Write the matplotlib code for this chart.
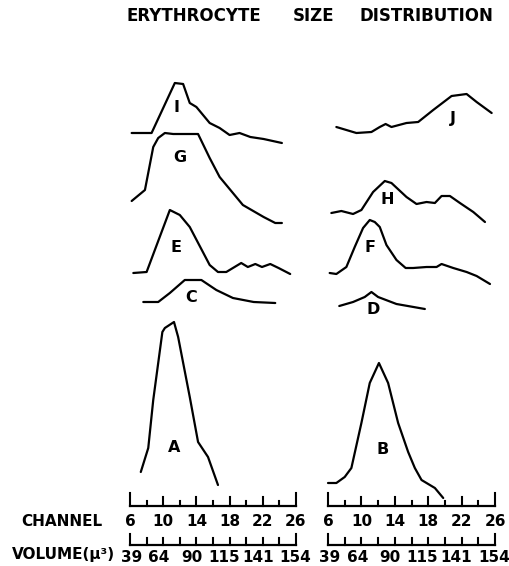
import matplotlib
matplotlib.use("Agg")
import matplotlib.pyplot as plt

# ---------------- data (channel, relative height above own baseline) ----------------
I_ch = [6.2, 8.6, 11.4, 12.4, 13.2, 14.0, 15.6, 16.8, 18.0, 19.2, 20.5, 22.1, 24.3]
I_val = [10, 10, 60, 59, 40, 36, 20, 15, 8, 10, 6, 4, 0]

G_ch = [6.2, 7.8, 8.8, 9.4, 10.2, 11.2, 14.2, 15.6, 16.8, 18.4, 19.6, 22.1, 23.5, 24.3]
G_val = [22, 33, 76, 85, 90, 89, 89, 65, 46, 30, 18, 6, 0, 0]

E_ch = [6.4, 8.0, 10.8, 12.0, 13.2, 15.6, 16.6, 17.6, 18.6, 19.4, 20.2, 21.1, 21.9, 22.9, 23.9, 25.3]
E_val = [1, 2, 64, 59, 47, 9, 2, 2, 7, 11, 7, 10, 7, 10, 6, 0]

C_ch = [7.6, 9.4, 10.8, 12.6, 14.6, 16.4, 18.4, 20.9, 23.5]
C_val = [1, 1, 10, 23, 23, 13, 5, 1, 0]

A_ch = [7.3, 8.2, 8.8, 9.9, 10.2, 11.3, 11.8, 13.2, 14.2, 15.4, 16.6]
A_val = [13, 37, 85, 153, 157, 163, 148, 88, 43, 28, 0]

J_ch = [7.0, 9.4, 11.2, 12.2, 12.9, 13.6, 15.4, 16.8, 18.6, 20.8, 22.6, 23.8, 25.6]
J_val = [6, 0, 1, 6, 9, 6, 10, 11, 23, 37, 39, 31, 20]

H_ch = [6.4, 7.6, 9.0, 10.0, 11.4, 12.8, 13.6, 15.4, 16.6, 17.8, 18.8, 19.6, 20.6, 21.8, 23.4, 24.8]
H_val = [9, 11, 8, 12, 30, 41, 39, 25, 18, 20, 19, 26, 26, 19, 10, 0]

F_ch = [6.2, 7.0, 8.2, 9.2, 10.2, 11.0, 11.6, 12.2, 13.0, 14.2, 15.3, 16.2, 17.8, 19.0, 19.6, 21.0, 22.6, 23.8, 25.4]
F_val = [11, 10, 17, 37, 56, 64, 62, 57, 39, 24, 16, 16, 17, 17, 20, 16, 12, 8, 0]

D_ch = [7.35, 9.0, 10.4, 11.2, 12.0, 14.2, 17.6]
D_val = [3, 7, 12, 17, 12, 5, 0]

B_ch = [6.0, 7.0, 8.0, 8.8, 10.0, 11.0, 12.1, 13.2, 14.4, 15.6, 16.4, 17.2, 18.8, 19.8]
B_val = [15, 15, 21, 30, 75, 115, 135, 115, 75, 46, 30, 18, 10, 0]

channel_labels = [6, 10, 14, 18, 22, 26]
volume_labels = [39, 64, 90, 115, 141, 154]
title_words = ["ERYTHROCYTE", "SIZE", "DISTRIBUTION"]

# ---------------- layout (positions/styles) ----------------
W, H = 509, 566
DPI = 100
LW = 1.6
FONT = "DejaVu Sans"
WEIGHT = "bold"

# baseline offset of each curve (px above channel scale line) and label position
left_curves = [("I", I_ch, I_val, 363, (11.66, 399)),
               ("G", G_ch, G_val, 283, (12.02, 348)),
               ("E", E_ch, E_val, 232, (11.54, 259)),
               ("C", C_ch, C_val, 203, (13.35, 208)),
               ("A", A_ch, A_val, 21, (11.3, 58))]
right_curves = [("J", J_ch, J_val, 373, (21.0, 388)),
                ("H", H_ch, H_val, 284, (13.1, 306)),
                ("F", F_ch, F_val, 222, (11.0, 259)),
                ("D", D_ch, D_val, 197, (11.4, 196)),
                ("B", B_ch, B_val, 8, (12.6, 57))]

vol_label_pos = [6.2, 9.5, 13.4, 17.3, 21.4, 25.9]
title_x_px = [194, 314, 426]

fig = plt.figure(figsize=(W / DPI, H / DPI), dpi=DPI)
fig.patch.set_facecolor("white")

def make_panel(x0_px, x1_px, curves):
    ax = fig.add_axes([x0_px / W, 0, (x1_px - x0_px) / W, 1])
    ax.set_xlim(6, 26)
    ax.set_ylim(506 - H, 506)
    ax.axis("off")
    for name, ch, val, off, (lx, ly) in curves:
        ax.plot(ch, [v + off for v in val], color="black", lw=LW,
                solid_joinstyle="round", solid_capstyle="round", clip_on=False)
        ax.text(lx, ly, name, fontsize=11.5, family=FONT, weight=WEIGHT,
                ha="center", va="center")
    # channel scale
    ticks = list(range(6, 27, 2))
    ax.plot([6, 26], [0, 0], color="black", lw=1.6, clip_on=False)
    for t in ticks:
        if t in (6, 26):
            h = 13
        elif t in channel_labels:
            h = 9
        else:
            h = 5
        ax.plot([t, t], [0, h], color="black", lw=1.5, clip_on=False)
    for t in channel_labels:
        ax.text(t, -15, str(t), fontsize=11, family=FONT, weight=WEIGHT,
                ha="center", va="center")
    # volume scale
    yv = -39
    ax.plot([6, 26], [yv, yv], color="black", lw=1.6, clip_on=False)
    for t in ticks:
        h = 11 if t in (6, 26) else 7
        ax.plot([t, t], [yv, yv + h], color="black", lw=1.5, clip_on=False)
    for p, v in zip(vol_label_pos, volume_labels):
        ax.text(p, -51, str(v), fontsize=11, family=FONT, weight=WEIGHT,
                ha="center", va="center")
    return ax

make_panel(130, 296, left_curves)
make_panel(328, 495, right_curves)

for word, xp in zip(title_words, title_x_px):
    fig.text(xp / W, 1 - 16 / H, word, fontsize=12, family=FONT, weight=WEIGHT,
             ha="center", va="center")
fig.text(62 / W, 1 - 521 / H, "CHANNEL", fontsize=11, family=FONT, weight=WEIGHT,
         ha="center", va="center")
fig.text(63 / W, 1 - 555 / H, "VOLUME(\u03bc\u00b3)", fontsize=11, family=FONT,
         weight=WEIGHT, ha="center", va="center")

fig.savefig("out.png", dpi=DPI, facecolor="white")
